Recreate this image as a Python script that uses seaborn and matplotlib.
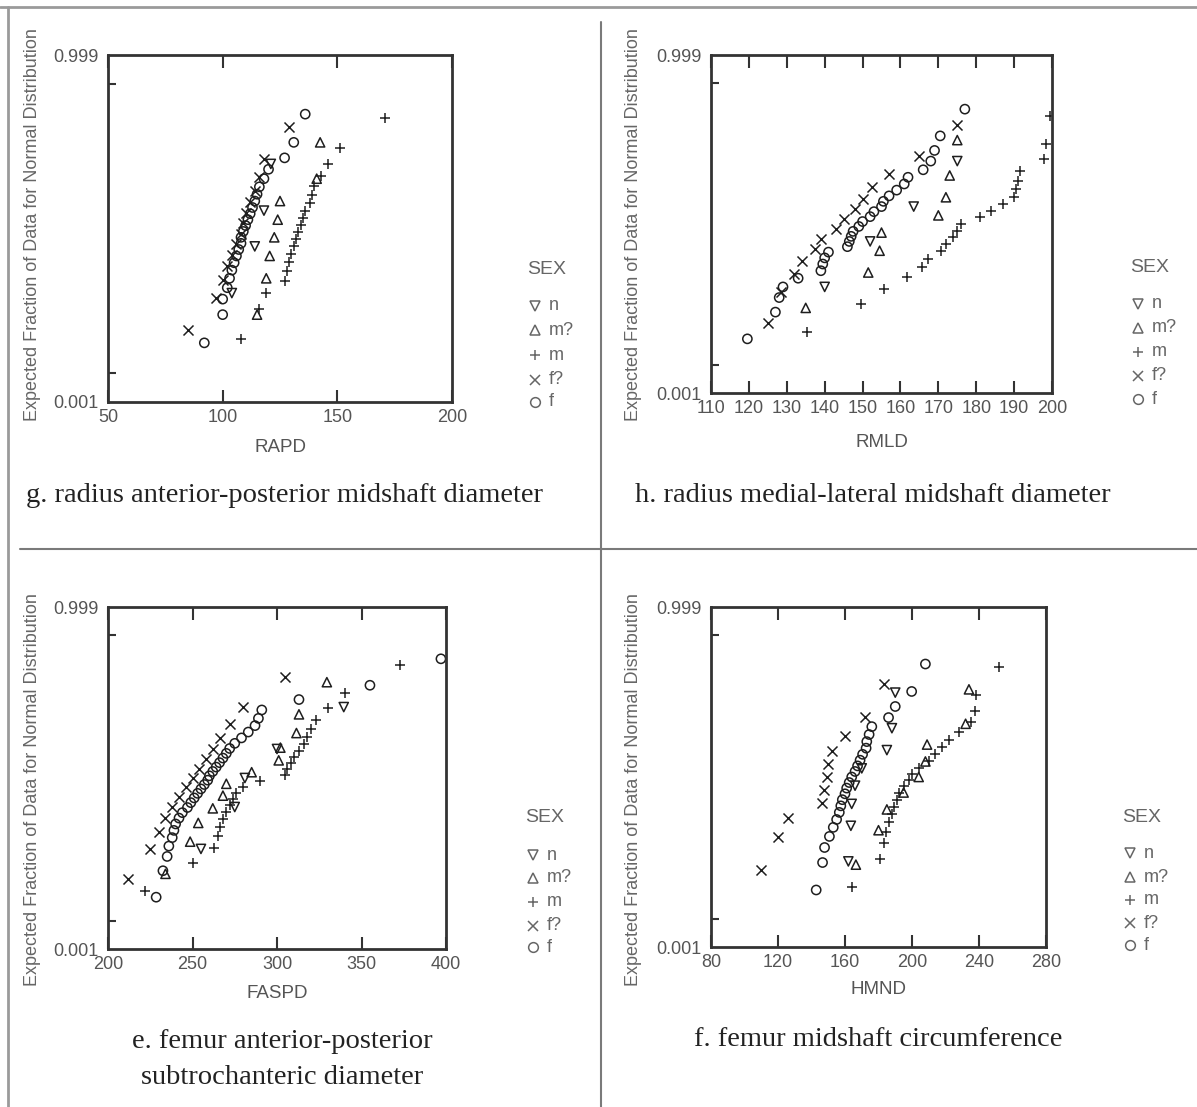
import numpy as np
import pandas as pd
import matplotlib
matplotlib.use("Agg")
import matplotlib.pyplot as plt
import seaborn as sns
from matplotlib.lines import Line2D
from statistics import NormalDist

sns.set_theme(style="white")
plt.rcParams["font.family"] = ["Liberation Sans", "DejaVu Sans"]

SEX_LEVELS = ["n", "m?", "m", "f?", "f"]

# g. RAPD
g_n = [104, 114, 118, 121]
g_mq = [115, 119, 120.5, 122.5, 124, 125, 141, 142.5]
g_m = [108, 116, 119, 127, 128, 129, 130, 131, 132, 133, 134, 135, 136, 138, 139, 140, 143, 146, 151, 171]
g_fq = [85, 97, 100, 102, 104, 106, 108, 109, 110, 112, 114, 116, 118, 129]
g_f = [92, 100, 100, 102, 103, 104, 105, 106, 107, 108, 108, 109, 110, 111, 112, 113, 114, 115, 116, 118, 120, 127, 131, 136]

# h. RMLD
h_n = [140, 152, 163.5, 175]
h_mq = [135, 151.5, 154.5, 155, 170, 172, 173, 175]
h_m = [135.4, 149.6, 155.6, 161.7, 165.6, 167.4, 170.6, 172, 174, 175, 176, 181, 184, 187, 190, 190.5, 191, 191.5, 198, 198.5, 199.5]
h_fq = [125, 128.5, 132, 134, 137.5, 139, 143, 145, 148, 150, 152.5, 157, 165, 175]
h_f = [119.6, 127, 128, 129, 133, 139, 139.5, 140, 141, 146, 146.5, 147, 147.5, 149, 150, 152, 153, 155, 155.5, 157, 159, 161, 162, 166, 168, 169, 170.5, 177]

# e. FASPD
e_n = [255, 275, 281, 300, 339.5]
e_mq = [234, 248.6, 253.4, 262, 268, 270, 285, 301, 302, 311.5, 313, 329.5]
e_m = [222, 250, 263, 265, 266, 268, 270, 272, 274, 276, 280, 290, 305, 306, 308, 310, 313, 316, 318, 320, 323, 330, 340, 373]
e_fq = [212, 225, 230, 234, 238, 242, 246, 250, 254, 258, 262, 266, 272, 280, 305]
e_f = [228.5, 232.5, 235, 236, 238, 239, 240, 242, 244, 247, 249, 251, 253, 255, 257, 259, 260, 262, 264, 266, 268, 270, 272, 275, 279, 283, 287, 289, 291, 313, 355, 397]

# f. HMND
f_n = [162, 163.5, 164, 166, 170, 185, 188, 190]
f_mq = [166.5, 180, 185, 195, 204, 208, 209, 232, 234]
f_m = [164, 181, 183, 184.5, 186, 188, 189.5, 191, 192, 195.5, 198, 200, 204, 210, 214, 218, 222, 228, 235, 237.5, 238, 252]
f_fq = [110, 120, 126, 146, 147.5, 149, 150, 152, 160, 172, 183]
f_f = [142.8, 146.6, 147.8, 150.7, 153, 155, 156.6, 157.5, 158.4, 160, 161, 162.5, 164, 166, 167.5, 169, 170.5, 172.6, 173, 174.4, 176, 186, 190, 199.8, 208]

g_xticks = [50, 100, 150, 200]
h_xticks = [110, 120, 130, 140, 150, 160, 170, 180, 190, 200]
e_xticks = [200, 250, 300, 350, 400]
f_xticks = [80, 120, 160, 200, 240, 280]
y_ticklabels = ["0.001", "0.999"]
y_label = "Expected Fraction of Data for Normal Distribution"

captions = {
    "g": ["g. radius anterior-posterior midshaft diameter"],
    "h": ["h. radius medial-lateral midshaft diameter"],
    "e": ["e. femur anterior-posterior", "subtrochanteric diameter"],
    "f": ["f. femur midshaft circumference"],
}

# ---------------- styling ----------------
W, H = 1197, 1107
INK = "#1e1e1e"
FRAME = "#333333"
GRAY = "#555555"
LGRAY = "#666666"
MARK = {"n": "v", "m?": "^", "m": "+", "f?": "x", "f": "o"}
OPEN = {"n": True, "m?": True, "m": False, "f?": False, "f": True}
ZMAX = NormalDist().inv_cdf(0.999)
ZMIN_TICK = NormalDist().inv_cdf(0.995)

fig = plt.figure(figsize=(W / 100, H / 100), dpi=100)


def ax_at(l, t, r, b):
    return fig.add_axes([l / W, 1 - b / H, (r - l) / W, (b - t) / H])


def prob_frame(groups):
    rows = []
    nd = NormalDist()
    for sex, vals in groups.items():
        v = np.sort(np.asarray(vals, dtype=float))
        n = len(v)
        for i, x in enumerate(v, start=1):
            rows.append({"SEX": sex, "value": x, "z": nd.inv_cdf((i - 0.5) / n)})
    return pd.DataFrame(rows)


def draw_panel(ax, groups, xlim, xticks):
    df = prob_frame(groups)
    for sex in SEX_LEVELS:
        sub = df[df["SEX"] == sex]
        if sub.empty:
            continue
        size = 52 if sex in ("m", "f?") else 44
        sns.scatterplot(data=sub, x="value", y="z", marker=MARK[sex], s=size,
                        color=INK, linewidth=1.1, ax=ax, legend=False)
        coll = ax.collections[-1]
        if OPEN[sex]:
            coll.set_facecolor("none")
            coll.set_edgecolor(INK)
        else:
            coll.set_facecolor(INK)
            coll.set_edgecolor(INK)
        coll.set_linewidth(1.1)
    ax.set_xlim(*xlim)
    ax.set_xticks(xticks)
    ax.set_xticklabels([str(t) for t in xticks])
    ax.set_ylim(-ZMAX, ZMAX)
    ax.set_yticks([-ZMAX, ZMAX])
    ax.set_yticklabels(y_ticklabels)
    ax.set_yticks([-ZMIN_TICK, ZMIN_TICK], minor=True)
    ax.set_xlabel("")
    ax.set_ylabel("")
    ax.tick_params(axis="x", which="major", direction="in", bottom=True, top=True,
                   length=9, width=1.5, color=FRAME, labelsize=13, labelcolor=GRAY, pad=5)
    ax.tick_params(axis="y", which="major", left=True, length=0, labelsize=13,
                   labelcolor=GRAY, pad=7)
    ax.tick_params(axis="y", which="minor", direction="in", left=True, right=False,
                   length=6, width=1.5, color=FRAME)
    for sp in ax.spines.values():
        sp.set_visible(True)
        sp.set_linewidth(2.0)
        sp.set_color(FRAME)
    ax.set_facecolor("white")


def legend_at(x, y_title, ys):
    fig.text(x / W, 1 - y_title / H, "SEX", fontsize=14, color=LGRAY, ha="left", va="center")
    for sex, y in zip(SEX_LEVELS, ys):
        fig.add_artist(Line2D([(x + 8) / W], [1 - y / H], transform=fig.transFigure,
                              marker=MARK[sex], markersize=7, linestyle="none",
                              markerfacecolor="none" if OPEN[sex] else LGRAY,
                              markeredgecolor=LGRAY, markeredgewidth=1.1))
        fig.text((x + 22) / W, 1 - y / H, sex, fontsize=13, color=LGRAY, ha="left", va="center")


panels = [
    ("g", (108, 55, 452, 402), {"n": g_n, "m?": g_mq, "m": g_m, "f?": g_fq, "f": g_f}, (50, 200), g_xticks, "RAPD"),
    ("h", (711, 55, 1052, 393), {"n": h_n, "m?": h_mq, "m": h_m, "f?": h_fq, "f": h_f}, (110, 200), h_xticks, "RMLD"),
    ("e", (108, 607, 446, 949), {"n": e_n, "m?": e_mq, "m": e_m, "f?": e_fq, "f": e_f}, (200, 400), e_xticks, "FASPD"),
    ("f", (711, 607, 1046, 947), {"n": f_n, "m?": f_mq, "m": f_m, "f?": f_fq, "f": f_f}, (80, 280), f_xticks, "HMND"),
]

ylabel_pos = {"g": (33, 225), "h": (633, 225), "e": (33, 790), "f": (633, 790)}
xlabel_y = {"g": 447, "h": 443, "e": 993, "f": 990}
legend_pos = {
    "g": (527, 270, [306, 330, 355, 380, 402]),
    "h": (1130, 268, [304, 328, 352, 376, 399]),
    "e": (525, 818, [855, 878, 902, 926, 947]),
    "f": (1122, 817, [853, 877, 900, 923, 945]),
}
caption_pos = {"g": (284, [495]), "h": (873, [495]), "e": (282, [1041, 1077]), "f": (878, [1040])}

for key, box, groups, xlim, xticks, xlab in panels:
    ax = ax_at(*box)
    draw_panel(ax, groups, xlim, xticks)
    cx = (box[0] + box[2]) / 2
    fig.text(cx / W, 1 - xlabel_y[key] / H, xlab, fontsize=13.5, color=GRAY, ha="center", va="center")
    yx, yy = ylabel_pos[key]
    fig.text(yx / W, 1 - yy / H, y_label, fontsize=13, color=LGRAY, rotation=90,
             ha="center", va="center")
    lx, lt, lys = legend_pos[key]
    legend_at(lx, lt, lys)
    ccx, cys = caption_pos[key]
    for line, cy in zip(captions[key], cys):
        fig.text(ccx / W, 1 - cy / H, line, fontsize=20.5, color="#222222", ha="center", va="center",
                 family=["Liberation Serif", "DejaVu Serif"])

# page rules
def hline(y, x0, x1, color="#7a7a7a", lw=1.5):
    fig.add_artist(Line2D([x0 / W, x1 / W], [1 - y / H, 1 - y / H], transform=fig.transFigure, color=color, lw=lw))


def vline(x, y0, y1, color="#7a7a7a", lw=1.5):
    fig.add_artist(Line2D([x / W, x / W], [1 - y0 / H, 1 - y1 / H], transform=fig.transFigure, color=color, lw=lw))


hline(7, 0, W, color="#9a9a9a", lw=2.0)
vline(8, 7, H, color="#9a9a9a", lw=2.0)
vline(601, 22, H)
hline(549, 20, W)

fig.savefig("out.png", dpi=100, facecolor="white")
